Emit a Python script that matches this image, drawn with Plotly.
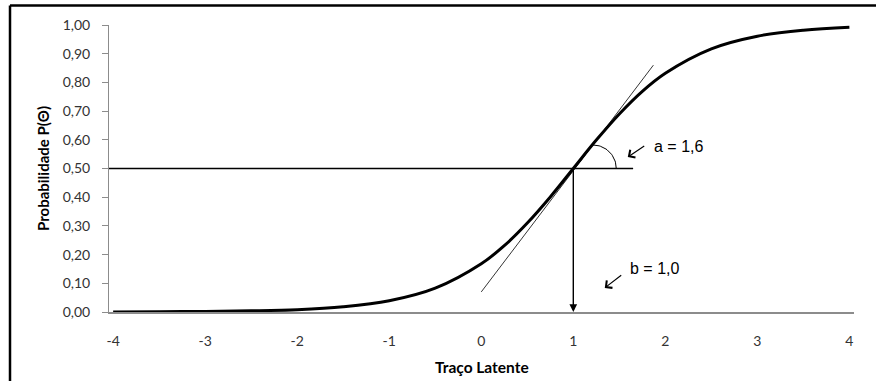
import numpy as np
import plotly.graph_objects as go

# Item characteristic curve
theta = [-4, -3.5, -3, -2.5, -2, -1.5, -1, -0.5, 0, 0.25, 0.5, 0.75, 1,
         1.25, 1.5, 1.75, 2, 2.5, 3, 3.5, 4]
prob = [0.000, 0.001, 0.002, 0.004, 0.008, 0.018, 0.039, 0.083, 0.168, 0.231,
        0.310, 0.401, 0.500, 0.599, 0.690, 0.769, 0.832, 0.917, 0.961, 0.982, 0.992]

# Tangent line at b (endpoints)
tangent_x = [0.0, 1.87]
tangent_y = [0.07, 0.86]

# Horizontal reference at P = 0.5
href_x = [-4.045, 1.65]
href_y = [0.5, 0.5]

b_param = 1.0
p_half = 0.5

x_ticks = [-4, -3, -2, -1, 0, 1, 2, 3, 4]
y_ticks = [0.0, 0.1, 0.2, 0.3, 0.4, 0.5, 0.6, 0.7, 0.8, 0.9, 1.0]
y_ticktext = ["0,00", "0,10", "0,20", "0,30", "0,40", "0,50", "0,60", "0,70", "0,80", "0,90", "1,00"]

label_a = "a = 1,6"
label_b = "b = 1,0"
x_title = "Traço Latente"
y_title = "Probabilidade P(Θ)"

W, H = 876, 381
ML, MR, MT, MB = 109, 22, 25, 69
XR = [-4.045, 4.05]
YR = [0, 1]

fig = go.Figure()

# arc marking angle a
cx, cy = 1.212, 0.5
rx, ry = 0.255, 0.082
t = np.linspace(0, np.pi / 2, 30)
fig.add_trace(go.Scatter(x=cx + rx * np.cos(t), y=cy + ry * np.sin(t), mode="lines",
                         line=dict(color="black", width=1), hoverinfo="skip", showlegend=False))

fig.add_trace(go.Scatter(x=href_x, y=href_y, mode="lines",
                         line=dict(color="black", width=1.3), showlegend=False))
fig.add_trace(go.Scatter(x=tangent_x, y=tangent_y, mode="lines",
                         line=dict(color="black", width=0.8), showlegend=False))
fig.add_trace(go.Scatter(x=theta, y=prob, mode="lines", line_shape="spline",
                         line=dict(color="black", width=3), showlegend=False))

# vertical arrow at b
fig.add_annotation(x=b_param, y=0, ax=b_param, ay=p_half, xref="x", yref="y",
                   axref="x", ayref="y", showarrow=True, arrowhead=2, arrowsize=1.1,
                   arrowwidth=1.4, arrowcolor="black", standoff=0, text="")

# label arrows
fig.add_annotation(x=1.592, y=0.540, ax=1.787, ay=0.582, xref="x", yref="y",
                   axref="x", ayref="y", showarrow=True, arrowhead=4, arrowsize=1.5,
                   arrowwidth=1.2, arrowcolor="black", standoff=0, text="")
fig.add_annotation(x=1.342, y=0.084, ax=1.537, ay=0.132, xref="x", yref="y",
                   axref="x", ayref="y", showarrow=True, arrowhead=4, arrowsize=1.5,
                   arrowwidth=1.2, arrowcolor="black", standoff=0, text="")
fig.add_annotation(x=1.850, y=0.575, xref="x", yref="y", text=label_a, showarrow=False,
                   xanchor="left", yanchor="middle",
                   font=dict(family="Liberation Sans", size=16, color="black"))
fig.add_annotation(x=1.595, y=0.153, xref="x", yref="y", text=label_b, showarrow=False,
                   xanchor="left", yanchor="middle",
                   font=dict(family="Liberation Sans", size=16, color="black"))

# axis titles
pw, ph = W - ML - MR, H - MT - MB
fig.add_annotation(x=(482 - ML) / pw, y=-(367 - (H - MB)) / ph,
                   xref="paper", yref="paper", text="<b>" + x_title + "</b>", showarrow=False,
                   xanchor="center", yanchor="middle",
                   font=dict(family="Lato", size=15.5, color="black"))
fig.add_annotation(x=-(ML - 43) / pw, y=(H - MB - 169) / ph,
                   xref="paper", yref="paper", text="<b>" + y_title + "</b>", showarrow=False,
                   textangle=-90, xanchor="center", yanchor="middle",
                   font=dict(family="Lato", size=15, color="black"))

# outer frame of the figure box
lx = (10 - ML) / pw
ty = 1 + (MT - 5.5) / ph
fig.add_shape(type="line", xref="paper", yref="paper", x0=lx, x1=lx, y0=-1, y1=ty,
              line=dict(color="black", width=2.5))
fig.add_shape(type="line", xref="paper", yref="paper", x0=lx, x1=1.2, y0=ty, y1=ty,
              line=dict(color="black", width=2.5))

fig.update_layout(
    width=W, height=H,
    margin=dict(l=ML, r=MR, t=MT, b=MB),
    paper_bgcolor="white", plot_bgcolor="white",
    font=dict(family="Lato", size=14, color="#333333"),
    xaxis=dict(range=XR, tickmode="array", tickvals=x_ticks,
               ticktext=[str(v) for v in x_ticks], showgrid=False, zeroline=False,
               showline=True, linecolor="#8c8c8c", linewidth=2, ticks="",
               ticklabelstandoff=15, tickfont=dict(size=14, color="#333333")),
    yaxis=dict(range=YR, tickmode="array", tickvals=y_ticks, ticktext=y_ticktext,
               showgrid=False, zeroline=False, showline=True, linecolor="#8c8c8c",
               linewidth=1, ticks="outside", ticklen=6, tickcolor="#8c8c8c",
               ticklabelstandoff=9, tickfont=dict(size=14, color="#333333")),
)

fig.write_html("out.html")
